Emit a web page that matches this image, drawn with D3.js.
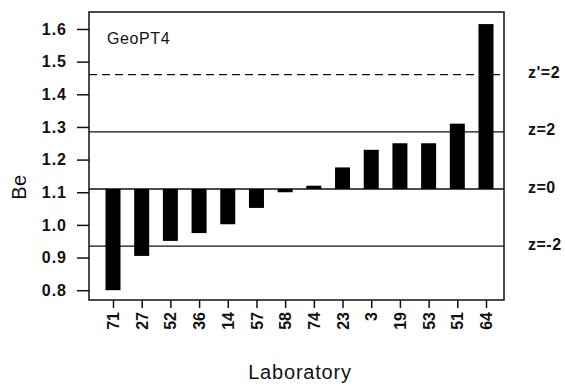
<!DOCTYPE html>
<html lang="en">
  <head>
    <title>GeoPT4 Be</title>
    <style>
      body { margin: 0; padding: 0; background: #fff; }
      #chart { width: 565px; height: 386px; }
      text { font-family: 'Liberation Sans', Arial, sans-serif; fill: #111; }
    </style>
  </head>
  <body>
    <div id="chart"></div>
    <script src="https://d3js.org/d3.v7.min.js"></script>
    <script>
    // laboratories, sorted by result
    var labs = ['71', '27', '52', '36', '14', '57', '58', '74', '23', '3', '19', '53', '51', '64'];
    var values = [0.80, 0.905, 0.951, 0.975, 1.002, 1.052, 1.100, 1.120, 1.176, 1.230, 1.250, 1.250, 1.310, 1.615];
    var yTicks = [0.8, 0.9, 1.0, 1.1, 1.2, 1.3, 1.4, 1.5, 1.6];
    var refNames = ["z'=2", 'z=2', 'z=0', 'z=-2'];
    var refValues = [1.46, 1.285, 1.11, 0.935];
    var refDashed = [true, false, false, false];
    var assigned = 1.11;

    var drawChart = function() {

      var width = 565, height = 386;
      var plotLeft = 89, plotRight = 504, plotTop = 12, plotBottom = 300;

      var svg = d3.select('#chart').append('svg')
        .attr('width', width)
        .attr('height', height);

      var y = d3.scaleLinear().domain([0.77, 1.652]).range([plotBottom, plotTop]);
      var x = d3.scalePoint().domain(labs).range([113, 486]);
      var barW = 15;

      // reference lines (behind bars)
      svg.selectAll('.ref')
        .data(refValues)
        .enter().append('line')
        .attr('x1', plotLeft).attr('x2', plotRight)
        .attr('y1', function(d) { return y(d); })
        .attr('y2', function(d) { return y(d); })
        .style('stroke', '#111')
        .style('stroke-width', 1.3)
        .style('stroke-dasharray', function(d, i) { return refDashed[i] ? '8,5' : null; });

      // bars from z=0
      svg.selectAll('.bar')
        .data(values)
        .enter().append('rect')
        .attr('x', function(d, i) { return x(labs[i]) - barW / 2; })
        .attr('width', barW)
        .attr('y', function(d) { return y(Math.max(d, assigned)); })
        .attr('height', function(d) { return Math.abs(y(d) - y(assigned)); })
        .style('fill', '#000');

      // frame
      svg.append('rect')
        .attr('x', plotLeft).attr('y', plotTop)
        .attr('width', plotRight - plotLeft).attr('height', plotBottom - plotTop)
        .style('fill', 'none')
        .style('stroke', '#111')
        .style('stroke-width', 1.5);

      // y axis
      var yAxis = svg.append('g')
        .attr('transform', 'translate(' + plotLeft + ',0)')
        .call(d3.axisLeft(y).tickValues(yTicks).tickFormat(d3.format('.1f')).tickSize(12).tickPadding(10));
      yAxis.select('.domain').remove();
      yAxis.selectAll('line').style('stroke', '#111').style('stroke-width', 1.5);
      yAxis.selectAll('text')
        .style('font-family', "'Liberation Sans', Arial, sans-serif")
        .style('font-size', '16px')
        .style('font-weight', 'bold')
        .style('letter-spacing', '1px')
        .style('fill', '#111');

      // x axis
      var xAxis = svg.append('g')
        .attr('transform', 'translate(0,' + plotBottom + ')')
        .call(d3.axisBottom(x).tickSize(8).tickPadding(4));
      xAxis.select('.domain').remove();
      xAxis.selectAll('line').style('stroke', '#111').style('stroke-width', 1.5);
      xAxis.selectAll('text')
        .style('font-family', "'Liberation Sans', Arial, sans-serif")
        .style('font-size', '16px')
        .style('font-weight', 'bold')
        .style('fill', '#111')
        .attr('text-anchor', 'end')
        .attr('transform', 'rotate(-90)')
        .attr('x', -12)
        .attr('y', 0)
        .attr('dy', '0.35em');

      // z labels on right
      svg.selectAll('.zlab')
        .data(refNames)
        .enter().append('text')
        .attr('x', 528)
        .attr('y', function(d, i) { return y(refValues[i]) - 2; })
        .attr('dy', '0.35em')
        .style('font-size', '16px')
        .style('font-weight', 'bold')
        .style('letter-spacing', '0.5px')
        .text(function(d) { return d; });

      svg.append('text')
        .attr('x', 107).attr('y', 44)
        .style('font-size', '16px')
        .style('letter-spacing', '0.6px')
        .text('GeoPT4');

      svg.append('text')
        .attr('transform', 'translate(26,187) rotate(-90)')
        .attr('text-anchor', 'middle')
        .style('font-size', '20px')
        .style('letter-spacing', '0.5px')
        .text('Be');

      svg.append('text')
        .attr('x', 300).attr('y', 379)
        .attr('text-anchor', 'middle')
        .style('font-size', '20px')
        .style('letter-spacing', '0.8px')
        .text('Laboratory');
    };

    drawChart();
    </script>
  </body>
</html>
